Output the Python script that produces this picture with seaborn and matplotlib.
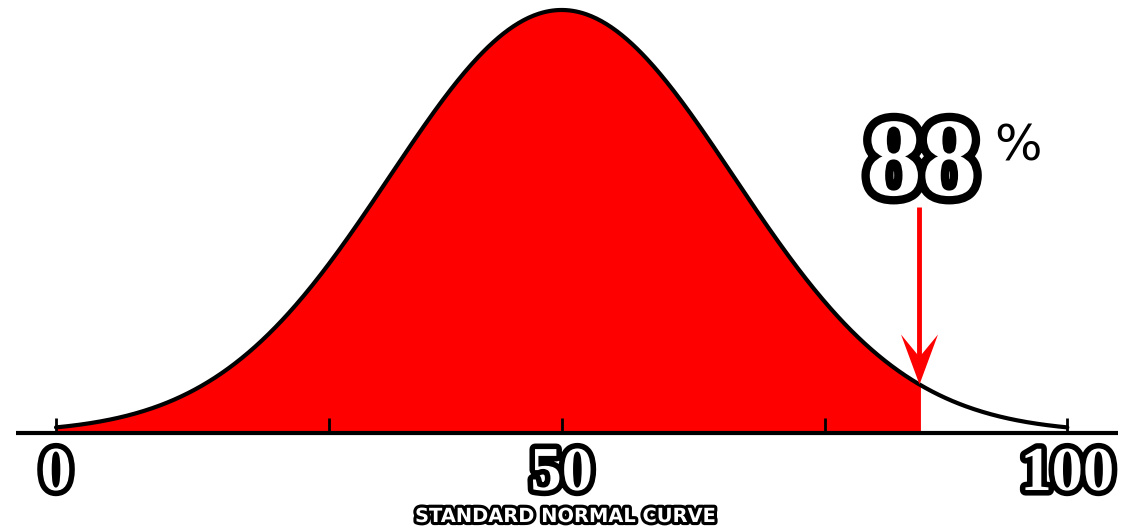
import numpy as np
import pandas as pd
import matplotlib.pyplot as plt
import matplotlib.patheffects as pe
import seaborn as sns

# curve parameters
mean = 50
sd = 17
marked_x = 85.5          # where the red area stops / arrow points
marked_label = '88'
tick_values = [0, 27, 50, 76, 100]
label_positions = [0, 50, 100]
tick_labels = ['0', '50', '100']
title = 'STANDARD NORMAL CURVE'

sns.set_style("white")

x = np.linspace(0, 100, 600)
curve = pd.DataFrame({'x': x, 'y': np.exp(-0.5 * ((x - mean) / sd) ** 2)})
shaded = curve[curve['x'] <= marked_x]

fig = plt.figure(figsize=(11.29, 5.28), dpi=100)
ax = fig.add_axes([0, 0, 1, 1])
ax.set_xlim(-5.54, 106.1)
ax.set_ylim(-0.2246, 1.0236)
ax.axis('off')

# red area up to the marked point
ax.fill_between(shaded['x'], 0, shaded['y'], color='#ff0000', lw=0, zorder=1)
sns.lineplot(data=curve, x='x', y='y', color='black', lw=3, ax=ax, zorder=3)

# baseline and ticks
ax.plot([-3.96, 105.0], [0, 0], color='black', lw=3, solid_capstyle='butt', zorder=4)
ax.vlines(tick_values, 0, 0.035, color='black', lw=2, zorder=4)

def outlined(w):
    return [pe.withStroke(linewidth=w, foreground='black')]

for pos, lab in zip(label_positions, tick_labels):
    ax.text(pos, -0.1348, lab, ha='center', va='baseline', fontsize=45, fontweight='bold',
            family='Liberation Serif', color='white', path_effects=outlined(8))

ax.text(50.4, -0.2104, title, ha='center', va='baseline', fontsize=14, fontweight='bold',
        family='DejaVu Sans', color='white', path_effects=outlined(4.5))

# 88 % label and arrow
ax.text(85.6, 0.5626, marked_label, ha='center', va='baseline', fontsize=80, fontweight='bold',
        family='Liberation Serif', color='white', path_effects=outlined(12))
ax.text(95.1, 0.643, '%', ha='center', va='baseline', fontsize=36, family='DejaVu Sans',
        color='black')

arrow_top, arrow_tip = 0.534, 0.115
head = [(0, 0), (-0.37, 1), (0, 0.55), (0.37, 1), (0, 0)]
ax.plot([marked_x - 0.2, marked_x - 0.2], [arrow_top, arrow_tip + 0.06], color='#ff0000',
        lw=3.5, solid_capstyle='butt', zorder=5)
ax.plot([marked_x - 0.2], [arrow_tip], marker=head, ms=72, color='#ff0000', mec='#ff0000',
        mew=0, zorder=6)

fig.savefig('out.png', dpi=100, facecolor='white')
